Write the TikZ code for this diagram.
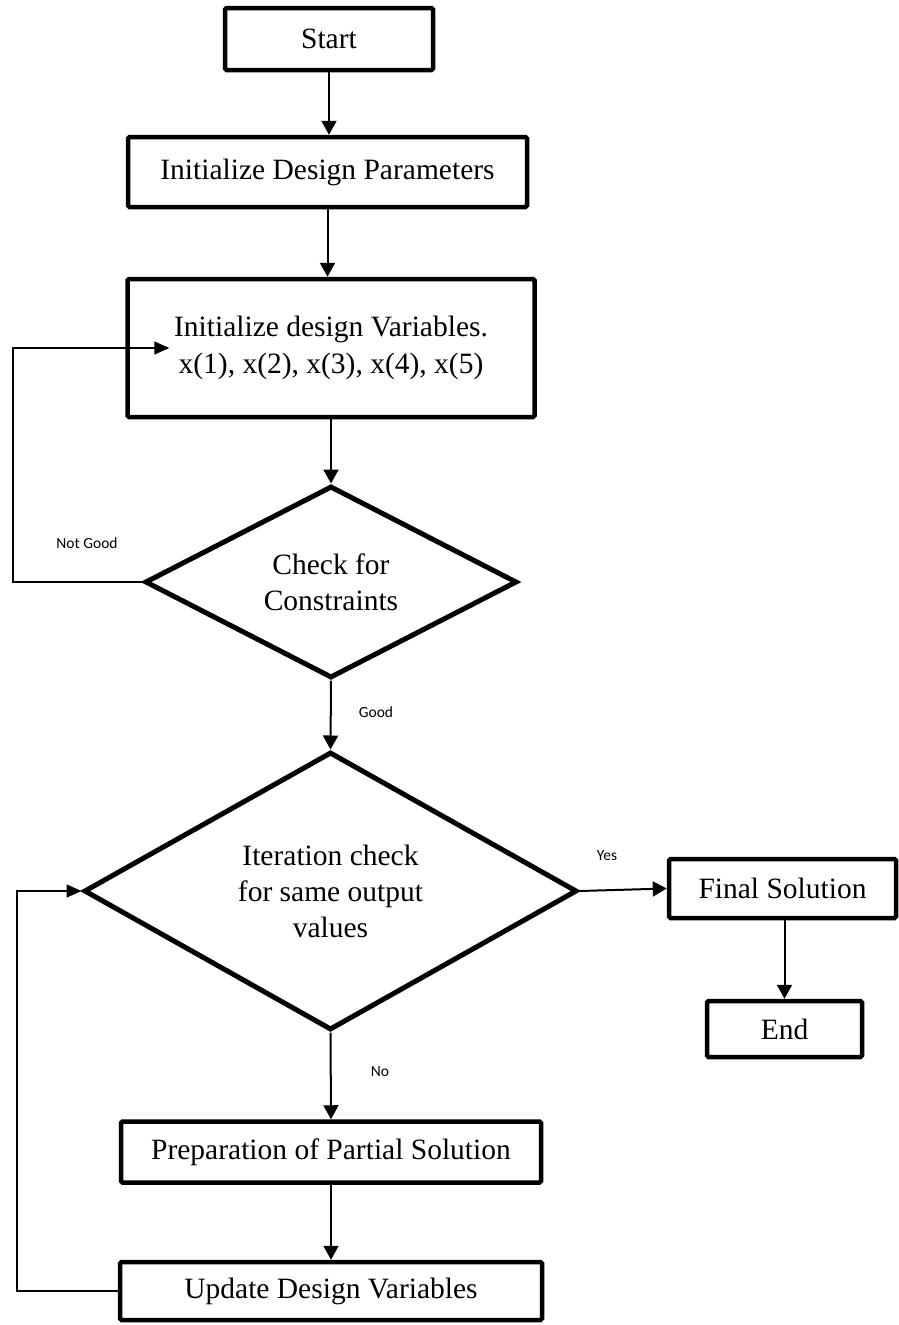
\documentclass[tikz,border=0pt]{standalone}
\usepackage{fontspec}
\setmainfont{Liberation Serif}
\newfontfamily\labfont{Carlito}
\usetikzlibrary{shapes.geometric,arrows.meta}
\tikzset{
  stepbox/.style={draw, line width=4.5pt, rounded corners=1.5pt, inner sep=0pt, align=center,
    font=\fontsize{29.5}{37}\selectfont},
  decision/.style={diamond, draw, line width=5pt, inner sep=0pt, align=center,
    font=\fontsize{29.5}{36}\selectfont},
  flow/.style={line width=2pt, -{Triangle[length=14pt,width=15pt]}},
  back/.style={line width=1.6pt, -{Triangle[length=15pt,width=13pt]}},
  lbl/.style={font=\labfont\fontsize{15.5}{18}\selectfont, inner sep=0pt}
}
\begin{document}
\begin{tikzpicture}[x=1pt,y=-1pt]
\useasboundingbox (0,0) rectangle (898,1325);
\node[stepbox, minimum width=208pt, minimum height=62pt] (start) at (329,39) {Start};
\node[stepbox, minimum width=399pt, minimum height=70pt] (params) at (327.5,172) {Initialize Design Parameters};
\node[stepbox, minimum width=407pt, minimum height=138pt] (vars) at (331,348) {Initialize design Variables.\\x(1), x(2), x(3), x(4), x(5)};
\node[decision, aspect=1.94, minimum width=372pt, minimum height=192pt] (d1) at (331,582) {Check for\\Constraints};
\node[decision, aspect=1.77, minimum width=493pt, minimum height=278pt] (d2) at (330.5,891) {Iteration check\\for same output\\values};
\node[stepbox, minimum width=227pt, minimum height=59pt] (final) at (782.5,888.5) {Final Solution};
\node[stepbox, minimum width=155pt, minimum height=56pt] (end) at (784.5,1029) {End};
\node[stepbox, minimum width=420pt, minimum height=61pt] (prep) at (331,1152) {Preparation of Partial Solution};
\node[stepbox, minimum width=422pt, minimum height=58pt] (update) at (331,1291) {Update Design Variables};

\draw[flow] (start.south) -- (start.south |- params.north);
\draw[flow] (params.south) -- (params.south |- vars.north);
\draw[flow] (vars.south) -- (d1.north);
\draw[flow] (d1.south) -- (d2.north);
\draw[flow] (d2.south) -- (prep.north);
\draw[flow] (prep.south) -- (update.north);
\draw[flow] (d2.east) -- (final.west);
\draw[flow] (final.south -| end.north) -- (end.north);

\coordinate (ngx) at (13,0);
\coordinate (nox) at (17,0);
\draw[back] (d1.west) -- (d1.west -| ngx) |- ([xshift=44pt]vars.west);
\draw[back] (update.west) -- (update.west -| nox) |- (d2.west);

\node[lbl] (ng) at (87,543) {Not Good};
\node[lbl] (good) at (376,712) {Good};
\node[lbl] (yes) at (607,856) {Yes};
\node[lbl] (no) at (380,1072) {No};
\end{tikzpicture}
\end{document}
